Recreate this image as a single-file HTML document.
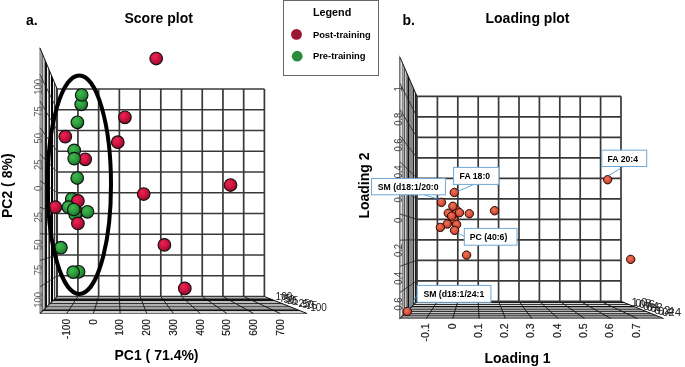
<!DOCTYPE html>
<html><head><meta charset="utf-8"><style>
html,body{margin:0;padding:0;background:#fff;}
svg{display:block;font-family:"Liberation Sans",sans-serif;will-change:transform;}
</style></head><body>
<svg width="685" height="367" viewBox="0 0 685 367">

<defs>
<radialGradient id="gr" cx="0.38" cy="0.35" r="0.7">
<stop offset="0" stop-color="#ec2452"/><stop offset="0.55" stop-color="#c8123e"/><stop offset="1" stop-color="#8a0a28"/>
</radialGradient>
<radialGradient id="gg" cx="0.38" cy="0.35" r="0.7">
<stop offset="0" stop-color="#42ba50"/><stop offset="0.55" stop-color="#2a9a3a"/><stop offset="1" stop-color="#17692a"/>
</radialGradient>
<radialGradient id="go" cx="0.42" cy="0.38" r="0.65">
<stop offset="0" stop-color="#f07458"/><stop offset="0.6" stop-color="#d8503a"/><stop offset="1" stop-color="#a83222"/>
</radialGradient>
</defs>

<rect width="685" height="367" fill="#fff"/>
<g><polygon points="40,48 57.2,89 57.2,296.5 40,313.5" fill="#fff" fill-opacity="0"/>
<polygon points="39.3,46.33 42,52.77 42,311.52 39.3,314.19" fill="#9a9a9a"/>
<polygon points="42,52.77 43,55.15 43,310.53 42,311.52" fill="#6a6a6a"/>
<polygon points="43,55.15 44,57.53 44,309.55 43,310.53" fill="#c8c8c8"/>
<polygon points="44,57.53 45,59.92 45,308.56 44,309.55" fill="#999"/>
<polygon points="45,59.92 47,64.69 47,306.58 45,308.56" fill="#111"/>
<polygon points="47,64.69 48,67.07 48,305.59 47,306.58" fill="#f4f4f4"/>
<polygon points="48,67.07 49,69.45 49,304.6 48,305.59" fill="#777"/>
<polygon points="49,69.45 50,71.84 50,303.62 49,304.6" fill="#222"/>
<polygon points="50,71.84 51,74.22 51,302.63 50,303.62" fill="#f0f0f0"/>
<polygon points="51,74.22 53,78.99 53,300.65 51,302.63" fill="#000"/>
<polygon points="53,78.99 54,81.37 54,299.66 53,300.65" fill="#eee"/>
<polygon points="54,81.37 55,83.76 55,298.67 54,299.66" fill="#444"/>
<polygon points="55,83.76 56,86.14 56,297.69 55,298.67" fill="#ccc"/>
<polygon points="56,86.14 57.3,89.24 57.3,296.4 56,297.69" fill="#333"/>
<polygon points="57.2,296.5 264.4,296.5 307,313.5 40,313.5" fill="#aaa"/>
<polygon points="57.2,296.5 264.4,296.5 265.65,297 56.69,297" fill="#222"/>
<polygon points="56.69,297 265.65,297 268.16,298 55.68,298" fill="#d8d8d8"/>
<polygon points="55.68,298 268.16,298 270.66,299 54.67,299" fill="#666"/>
<polygon points="54.67,299 270.66,299 275.68,301 52.65,301" fill="#111"/>
<polygon points="52.65,301 275.68,301 280.69,303 50.62,303" fill="#bbb"/>
<polygon points="50.62,303 280.69,303 283.19,304 49.61,304" fill="#333"/>
<polygon points="49.61,304 283.19,304 288.21,306 47.59,306" fill="#b0b0b0"/>
<polygon points="47.59,306 288.21,306 290.71,307 46.58,307" fill="#555"/>
<polygon points="46.58,307 290.71,307 295.72,309 44.55,309" fill="#a0a0a0"/>
<polygon points="44.55,309 295.72,309 298.23,310 43.54,310" fill="#555"/>
<polygon points="43.54,310 298.23,310 300.74,311 42.53,311" fill="#111"/>
<polygon points="42.53,311 300.74,311 305.75,313 40.51,313" fill="#d0d0d0"/>
<polygon points="40.51,313 305.75,313 307,313.5 40,313.5" fill="#111"/>
<line x1="57.2" y1="109.75" x2="40" y2="74.55" stroke="#222" stroke-width="0.8"/>
<line x1="57.2" y1="130.5" x2="40" y2="101.1" stroke="#222" stroke-width="0.8"/>
<line x1="57.2" y1="151.25" x2="40" y2="127.65" stroke="#222" stroke-width="0.8"/>
<line x1="57.2" y1="172" x2="40" y2="154.2" stroke="#222" stroke-width="0.8"/>
<line x1="57.2" y1="192.75" x2="40" y2="180.75" stroke="#222" stroke-width="0.8"/>
<line x1="57.2" y1="213.5" x2="40" y2="207.3" stroke="#222" stroke-width="0.8"/>
<line x1="57.2" y1="234.25" x2="40" y2="233.85" stroke="#222" stroke-width="0.8"/>
<line x1="57.2" y1="255" x2="40" y2="260.4" stroke="#222" stroke-width="0.8"/>
<line x1="57.2" y1="275.75" x2="40" y2="286.95" stroke="#222" stroke-width="0.8"/>
<line x1="57.2" y1="296.5" x2="40" y2="313.5" stroke="#222" stroke-width="0.8"/>
<line x1="77.92" y1="296.5" x2="66.7" y2="313.5" stroke="#111" stroke-width="0.9"/>
<line x1="98.64" y1="296.5" x2="93.4" y2="313.5" stroke="#111" stroke-width="0.9"/>
<line x1="119.36" y1="296.5" x2="120.1" y2="313.5" stroke="#111" stroke-width="0.9"/>
<line x1="140.08" y1="296.5" x2="146.8" y2="313.5" stroke="#111" stroke-width="0.9"/>
<line x1="160.8" y1="296.5" x2="173.5" y2="313.5" stroke="#111" stroke-width="0.9"/>
<line x1="181.52" y1="296.5" x2="200.2" y2="313.5" stroke="#111" stroke-width="0.9"/>
<line x1="202.24" y1="296.5" x2="226.9" y2="313.5" stroke="#111" stroke-width="0.9"/>
<line x1="222.96" y1="296.5" x2="253.6" y2="313.5" stroke="#111" stroke-width="0.9"/>
<line x1="243.68" y1="296.5" x2="280.3" y2="313.5" stroke="#111" stroke-width="0.9"/>
<line x1="57.2" y1="89" x2="57.2" y2="296.5" stroke="#383838" stroke-width="1.7"/>
<line x1="77.92" y1="89" x2="77.92" y2="296.5" stroke="#383838" stroke-width="1.7"/>
<line x1="98.64" y1="89" x2="98.64" y2="296.5" stroke="#383838" stroke-width="1.7"/>
<line x1="119.36" y1="89" x2="119.36" y2="296.5" stroke="#383838" stroke-width="1.7"/>
<line x1="140.08" y1="89" x2="140.08" y2="296.5" stroke="#383838" stroke-width="1.7"/>
<line x1="160.8" y1="89" x2="160.8" y2="296.5" stroke="#383838" stroke-width="1.7"/>
<line x1="181.52" y1="89" x2="181.52" y2="296.5" stroke="#383838" stroke-width="1.7"/>
<line x1="202.24" y1="89" x2="202.24" y2="296.5" stroke="#383838" stroke-width="1.7"/>
<line x1="222.96" y1="89" x2="222.96" y2="296.5" stroke="#383838" stroke-width="1.7"/>
<line x1="243.68" y1="89" x2="243.68" y2="296.5" stroke="#383838" stroke-width="1.7"/>
<line x1="264.4" y1="89" x2="264.4" y2="296.5" stroke="#383838" stroke-width="1.7"/>
<line x1="57.2" y1="89" x2="264.4" y2="89" stroke="#383838" stroke-width="1.7"/>
<line x1="57.2" y1="109.75" x2="264.4" y2="109.75" stroke="#383838" stroke-width="1.7"/>
<line x1="57.2" y1="130.5" x2="264.4" y2="130.5" stroke="#383838" stroke-width="1.7"/>
<line x1="57.2" y1="151.25" x2="264.4" y2="151.25" stroke="#383838" stroke-width="1.7"/>
<line x1="57.2" y1="172" x2="264.4" y2="172" stroke="#383838" stroke-width="1.7"/>
<line x1="57.2" y1="192.75" x2="264.4" y2="192.75" stroke="#383838" stroke-width="1.7"/>
<line x1="57.2" y1="213.5" x2="264.4" y2="213.5" stroke="#383838" stroke-width="1.7"/>
<line x1="57.2" y1="234.25" x2="264.4" y2="234.25" stroke="#383838" stroke-width="1.7"/>
<line x1="57.2" y1="255" x2="264.4" y2="255" stroke="#383838" stroke-width="1.7"/>
<line x1="57.2" y1="275.75" x2="264.4" y2="275.75" stroke="#383838" stroke-width="1.7"/>
<line x1="57.2" y1="296.5" x2="264.4" y2="296.5" stroke="#383838" stroke-width="1.7"/>
<line x1="40" y1="48" x2="57.2" y2="89" stroke="#111" stroke-width="1"/>
<line x1="264.4" y1="296.5" x2="307" y2="313.5" stroke="#111" stroke-width="1"/>
<line x1="40" y1="313.5" x2="57.2" y2="296.5" stroke="#111" stroke-width="1"/></g>
<text transform="translate(41.6,87) rotate(-90) scale(0.9,1)" font-size="10.5" fill="#5a5a5a" text-anchor="middle">100</text>
<text transform="translate(41.6,111.4) rotate(-90) scale(0.9,1)" font-size="10.5" fill="#5a5a5a" text-anchor="middle">75</text>
<text transform="translate(41.6,138.2) rotate(-90) scale(0.9,1)" font-size="10.5" fill="#5a5a5a" text-anchor="middle">50</text>
<text transform="translate(41.6,164.7) rotate(-90) scale(0.9,1)" font-size="10.5" fill="#5a5a5a" text-anchor="middle">25</text>
<text transform="translate(41.6,188.3) rotate(-90) scale(0.9,1)" font-size="10.5" fill="#5a5a5a" text-anchor="middle">0</text>
<text transform="translate(41.6,217.2) rotate(-90) scale(0.9,1)" font-size="10.5" fill="#5a5a5a" text-anchor="middle">25</text>
<text transform="translate(41.6,244.8) rotate(-90) scale(0.9,1)" font-size="10.5" fill="#5a5a5a" text-anchor="middle">50</text>
<text transform="translate(41.6,270) rotate(-90) scale(0.9,1)" font-size="10.5" fill="#5a5a5a" text-anchor="middle">75</text>
<text transform="translate(41.6,300) rotate(-90) scale(0.9,1)" font-size="10.5" fill="#5a5a5a" text-anchor="middle">100</text>
<circle cx="156.2" cy="58.5" r="6.3" fill="url(#gr)" stroke="#111" stroke-width="1.15"/>
<circle cx="124.9" cy="117.3" r="6.3" fill="url(#gr)" stroke="#111" stroke-width="1.15"/>
<circle cx="117.8" cy="142.2" r="6.3" fill="url(#gr)" stroke="#111" stroke-width="1.15"/>
<circle cx="65.3" cy="136.6" r="6.3" fill="url(#gr)" stroke="#111" stroke-width="1.15"/>
<circle cx="85.2" cy="159.3" r="6.3" fill="url(#gr)" stroke="#111" stroke-width="1.15"/>
<circle cx="143.7" cy="194" r="6.3" fill="url(#gr)" stroke="#111" stroke-width="1.15"/>
<circle cx="230.5" cy="185" r="6.3" fill="url(#gr)" stroke="#111" stroke-width="1.15"/>
<circle cx="164.4" cy="244.9" r="6.3" fill="url(#gr)" stroke="#111" stroke-width="1.15"/>
<circle cx="184.8" cy="288.4" r="6.3" fill="url(#gr)" stroke="#111" stroke-width="1.15"/>
<circle cx="81.2" cy="104.3" r="6.3" fill="url(#gg)" stroke="#111" stroke-width="1.15"/>
<circle cx="81.7" cy="95" r="6.3" fill="url(#gg)" stroke="#111" stroke-width="1.15"/>
<circle cx="77.4" cy="122.3" r="6.3" fill="url(#gg)" stroke="#111" stroke-width="1.15"/>
<circle cx="74.2" cy="150.4" r="6.3" fill="url(#gg)" stroke="#111" stroke-width="1.15"/>
<circle cx="74.2" cy="158.6" r="6.3" fill="url(#gg)" stroke="#111" stroke-width="1.15"/>
<circle cx="77.2" cy="178" r="6.3" fill="url(#gg)" stroke="#111" stroke-width="1.15"/>
<circle cx="60.9" cy="247.7" r="6.3" fill="url(#gg)" stroke="#111" stroke-width="1.15"/>
<circle cx="78.6" cy="271.8" r="6.3" fill="url(#gg)" stroke="#111" stroke-width="1.15"/>
<circle cx="73.2" cy="272.2" r="6.3" fill="url(#gg)" stroke="#111" stroke-width="1.15"/>
<circle cx="71.8" cy="198.9" r="6.3" fill="url(#gg)" stroke="#111" stroke-width="1.15"/>
<circle cx="77.9" cy="200.9" r="6.3" fill="url(#gr)" stroke="#111" stroke-width="1.15"/>
<circle cx="77.2" cy="212.5" r="6.3" fill="url(#gr)" stroke="#111" stroke-width="1.15"/>
<circle cx="75.2" cy="214.6" r="6.3" fill="url(#gg)" stroke="#111" stroke-width="1.15"/>
<circle cx="68.4" cy="207.1" r="6.3" fill="url(#gg)" stroke="#111" stroke-width="1.15"/>
<circle cx="55.4" cy="207.1" r="6.3" fill="url(#gr)" stroke="#111" stroke-width="1.15"/>
<circle cx="87.5" cy="211.8" r="6.3" fill="url(#gg)" stroke="#111" stroke-width="1.15"/>
<circle cx="73.8" cy="209.5" r="6.3" fill="url(#gg)" stroke="#111" stroke-width="1.15"/>
<circle cx="77.9" cy="223.4" r="6.3" fill="url(#gr)" stroke="#111" stroke-width="1.15"/>
<ellipse cx="79.3" cy="184.7" rx="31.7" ry="109.2" fill="none" stroke="#000" stroke-width="4"/>
<g><polygon points="400,57.3 417,96.3 417,301.3 400,318.5" fill="#fff" fill-opacity="0"/>
<polygon points="399,55.01 400,57.3 400,318.5 399,319.51" fill="#777"/>
<polygon points="400,57.3 401,59.59 401,317.49 400,318.5" fill="#aaa"/>
<polygon points="401,59.59 402,61.89 402,316.48 401,317.49" fill="#ddd"/>
<polygon points="402,61.89 403,64.18 403,315.46 402,316.48" fill="#888"/>
<polygon points="403,64.18 404,66.48 404,314.45 403,315.46" fill="#aaa"/>
<polygon points="404,66.48 405,68.77 405,313.44 404,314.45" fill="#555"/>
<polygon points="405,68.77 406,71.06 406,312.43 405,313.44" fill="#ccc"/>
<polygon points="406,71.06 407,73.36 407,311.42 406,312.43" fill="#888"/>
<polygon points="407,73.36 408,75.65 408,310.41 407,311.42" fill="#666"/>
<polygon points="408,75.65 409,77.95 409,309.39 408,310.41" fill="#111"/>
<polygon points="409,77.95 413,87.12 413,305.35 409,309.39" fill="#888"/>
<polygon points="413,87.12 414,89.42 414,304.34 413,305.35" fill="#222"/>
<polygon points="414,89.42 415,91.71 415,303.32 414,304.34" fill="#ccc"/>
<polygon points="415,91.71 417,96.3 417,301.3 415,303.32" fill="#222"/>
<polygon points="417,301.3 621,301.3 663.6,318.5 400,318.5" fill="#aaa"/>
<polygon points="417,301.3 621,301.3 625.21,303 415.32,303" fill="#111"/>
<polygon points="415.32,303 625.21,303 627.69,304 414.33,304" fill="#d8d8d8"/>
<polygon points="414.33,304 627.69,304 630.16,305 413.34,305" fill="#333"/>
<polygon points="413.34,305 630.16,305 632.64,306 412.35,306" fill="#d8d8d8"/>
<polygon points="412.35,306 632.64,306 635.12,307 411.37,307" fill="#111"/>
<polygon points="411.37,307 635.12,307 640.07,309 409.39,309" fill="#999"/>
<polygon points="409.39,309 640.07,309 642.55,310 408.4,310" fill="#555"/>
<polygon points="408.4,310 642.55,310 645.02,311 407.41,311" fill="#aaa"/>
<polygon points="407.41,311 645.02,311 647.5,312 406.42,312" fill="#333"/>
<polygon points="406.42,312 647.5,312 649.98,313 405.44,313" fill="#ccc"/>
<polygon points="405.44,313 649.98,313 652.45,314 404.45,314" fill="#444"/>
<polygon points="404.45,314 652.45,314 654.93,315 403.46,315" fill="#999"/>
<polygon points="403.46,315 654.93,315 657.41,316 402.47,316" fill="#555"/>
<polygon points="402.47,316 657.41,316 659.88,317 401.48,317" fill="#999"/>
<polygon points="401.48,317 659.88,317 662.36,318 400.49,318" fill="#777"/>
<polygon points="400.49,318 662.36,318 663.6,318.5 400,318.5" fill="#222"/>
<line x1="417" y1="116.8" x2="400" y2="83.42" stroke="#222" stroke-width="0.8"/>
<line x1="417" y1="137.3" x2="400" y2="109.54" stroke="#222" stroke-width="0.8"/>
<line x1="417" y1="157.8" x2="400" y2="135.66" stroke="#222" stroke-width="0.8"/>
<line x1="417" y1="178.3" x2="400" y2="161.78" stroke="#222" stroke-width="0.8"/>
<line x1="417" y1="198.8" x2="400" y2="187.9" stroke="#222" stroke-width="0.8"/>
<line x1="417" y1="219.3" x2="400" y2="214.02" stroke="#222" stroke-width="0.8"/>
<line x1="417" y1="239.8" x2="400" y2="240.14" stroke="#222" stroke-width="0.8"/>
<line x1="417" y1="260.3" x2="400" y2="266.26" stroke="#222" stroke-width="0.8"/>
<line x1="417" y1="280.8" x2="400" y2="292.38" stroke="#222" stroke-width="0.8"/>
<line x1="417" y1="301.3" x2="400" y2="318.5" stroke="#222" stroke-width="0.8"/>
<line x1="437.4" y1="301.3" x2="426.36" y2="318.5" stroke="#111" stroke-width="0.9"/>
<line x1="457.8" y1="301.3" x2="452.72" y2="318.5" stroke="#111" stroke-width="0.9"/>
<line x1="478.2" y1="301.3" x2="479.08" y2="318.5" stroke="#111" stroke-width="0.9"/>
<line x1="498.6" y1="301.3" x2="505.44" y2="318.5" stroke="#111" stroke-width="0.9"/>
<line x1="519" y1="301.3" x2="531.8" y2="318.5" stroke="#111" stroke-width="0.9"/>
<line x1="539.4" y1="301.3" x2="558.16" y2="318.5" stroke="#111" stroke-width="0.9"/>
<line x1="559.8" y1="301.3" x2="584.52" y2="318.5" stroke="#111" stroke-width="0.9"/>
<line x1="580.2" y1="301.3" x2="610.88" y2="318.5" stroke="#111" stroke-width="0.9"/>
<line x1="600.6" y1="301.3" x2="637.24" y2="318.5" stroke="#111" stroke-width="0.9"/>
<line x1="417" y1="96.3" x2="417" y2="301.3" stroke="#383838" stroke-width="1.7"/>
<line x1="437.4" y1="96.3" x2="437.4" y2="301.3" stroke="#383838" stroke-width="1.7"/>
<line x1="457.8" y1="96.3" x2="457.8" y2="301.3" stroke="#383838" stroke-width="1.7"/>
<line x1="478.2" y1="96.3" x2="478.2" y2="301.3" stroke="#383838" stroke-width="1.7"/>
<line x1="498.6" y1="96.3" x2="498.6" y2="301.3" stroke="#383838" stroke-width="1.7"/>
<line x1="519" y1="96.3" x2="519" y2="301.3" stroke="#383838" stroke-width="1.7"/>
<line x1="539.4" y1="96.3" x2="539.4" y2="301.3" stroke="#383838" stroke-width="1.7"/>
<line x1="559.8" y1="96.3" x2="559.8" y2="301.3" stroke="#383838" stroke-width="1.7"/>
<line x1="580.2" y1="96.3" x2="580.2" y2="301.3" stroke="#383838" stroke-width="1.7"/>
<line x1="600.6" y1="96.3" x2="600.6" y2="301.3" stroke="#383838" stroke-width="1.7"/>
<line x1="621" y1="96.3" x2="621" y2="301.3" stroke="#383838" stroke-width="1.7"/>
<line x1="417" y1="96.3" x2="621" y2="96.3" stroke="#383838" stroke-width="1.7"/>
<line x1="417" y1="116.8" x2="621" y2="116.8" stroke="#383838" stroke-width="1.7"/>
<line x1="417" y1="137.3" x2="621" y2="137.3" stroke="#383838" stroke-width="1.7"/>
<line x1="417" y1="157.8" x2="621" y2="157.8" stroke="#383838" stroke-width="1.7"/>
<line x1="417" y1="178.3" x2="621" y2="178.3" stroke="#383838" stroke-width="1.7"/>
<line x1="417" y1="198.8" x2="621" y2="198.8" stroke="#383838" stroke-width="1.7"/>
<line x1="417" y1="219.3" x2="621" y2="219.3" stroke="#383838" stroke-width="1.7"/>
<line x1="417" y1="239.8" x2="621" y2="239.8" stroke="#383838" stroke-width="1.7"/>
<line x1="417" y1="260.3" x2="621" y2="260.3" stroke="#383838" stroke-width="1.7"/>
<line x1="417" y1="280.8" x2="621" y2="280.8" stroke="#383838" stroke-width="1.7"/>
<line x1="417" y1="301.3" x2="621" y2="301.3" stroke="#383838" stroke-width="1.7"/>
<line x1="400" y1="57.3" x2="417" y2="96.3" stroke="#111" stroke-width="1"/>
<line x1="621" y1="301.3" x2="663.6" y2="318.5" stroke="#111" stroke-width="1"/>
<line x1="400" y1="318.5" x2="417" y2="301.3" stroke="#111" stroke-width="1"/></g>
<text transform="translate(402.2,89) rotate(-90) scale(0.9,1)" font-size="10.5" fill="#3a3a3a" text-anchor="middle">1</text>
<text transform="translate(402.2,119.2) rotate(-90) scale(0.9,1)" font-size="10.5" fill="#3a3a3a" text-anchor="middle">0.8</text>
<text transform="translate(402.2,145) rotate(-90) scale(0.9,1)" font-size="10.5" fill="#3a3a3a" text-anchor="middle">0.6</text>
<text transform="translate(402.2,171.8) rotate(-90) scale(0.9,1)" font-size="10.5" fill="#3a3a3a" text-anchor="middle">0.4</text>
<text transform="translate(402.2,196) rotate(-90) scale(0.9,1)" font-size="10.5" fill="#3a3a3a" text-anchor="middle">0.2</text>
<text transform="translate(402.2,220.3) rotate(-90) scale(0.9,1)" font-size="10.5" fill="#3a3a3a" text-anchor="middle">0</text>
<text transform="translate(402.2,250.5) rotate(-90) scale(0.9,1)" font-size="10.5" fill="#3a3a3a" text-anchor="middle">0.2</text>
<text transform="translate(402.2,278.3) rotate(-90) scale(0.9,1)" font-size="10.5" fill="#3a3a3a" text-anchor="middle">0.4</text>
<text transform="translate(402.2,304) rotate(-90) scale(0.9,1)" font-size="10.5" fill="#3a3a3a" text-anchor="middle">0.6</text>
<circle cx="456.6" cy="210.3" r="4.2" fill="url(#go)" stroke="#2a0c04" stroke-width="1"/>
<circle cx="454.1" cy="220" r="4.2" fill="url(#go)" stroke="#2a0c04" stroke-width="1"/>
<circle cx="448.3" cy="213.2" r="4.2" fill="url(#go)" stroke="#2a0c04" stroke-width="1"/>
<circle cx="459.5" cy="212.7" r="4.2" fill="url(#go)" stroke="#2a0c04" stroke-width="1"/>
<circle cx="452.9" cy="206.3" r="4.2" fill="url(#go)" stroke="#2a0c04" stroke-width="1"/>
<circle cx="441.4" cy="202.4" r="4.2" fill="url(#go)" stroke="#2a0c04" stroke-width="1"/>
<circle cx="469.3" cy="213.7" r="4.2" fill="url(#go)" stroke="#2a0c04" stroke-width="1"/>
<circle cx="456.6" cy="224.5" r="4.2" fill="url(#go)" stroke="#2a0c04" stroke-width="1"/>
<circle cx="447.3" cy="224" r="4.2" fill="url(#go)" stroke="#2a0c04" stroke-width="1"/>
<circle cx="451.7" cy="216.1" r="4.2" fill="url(#go)" stroke="#2a0c04" stroke-width="1"/>
<circle cx="440.4" cy="227.4" r="4.2" fill="url(#go)" stroke="#2a0c04" stroke-width="1"/>
<circle cx="454.6" cy="230.4" r="4.2" fill="url(#go)" stroke="#2a0c04" stroke-width="1"/>
<circle cx="454.3" cy="192.5" r="4.2" fill="url(#go)" stroke="#2a0c04" stroke-width="1"/>
<circle cx="494.6" cy="210.7" r="4.2" fill="url(#go)" stroke="#2a0c04" stroke-width="1"/>
<circle cx="466.6" cy="255.1" r="4.2" fill="url(#go)" stroke="#2a0c04" stroke-width="1"/>
<circle cx="607.7" cy="179.7" r="4.2" fill="url(#go)" stroke="#2a0c04" stroke-width="1"/>
<circle cx="630.7" cy="259.4" r="4.2" fill="url(#go)" stroke="#2a0c04" stroke-width="1"/>
<circle cx="407.3" cy="311.5" r="4.2" fill="url(#go)" stroke="#2a0c04" stroke-width="1"/>
<text transform="translate(70,319) rotate(-90) scale(0.92,1)" font-size="11" fill="#1a1a1a" stroke="#1a1a1a" stroke-width="0.2" text-anchor="end">-100</text>
<text transform="translate(96.7,319) rotate(-90) scale(0.92,1)" font-size="11" fill="#1a1a1a" stroke="#1a1a1a" stroke-width="0.2" text-anchor="end">0</text>
<text transform="translate(123.4,319) rotate(-90) scale(0.92,1)" font-size="11" fill="#1a1a1a" stroke="#1a1a1a" stroke-width="0.2" text-anchor="end">100</text>
<text transform="translate(150.1,319) rotate(-90) scale(0.92,1)" font-size="11" fill="#1a1a1a" stroke="#1a1a1a" stroke-width="0.2" text-anchor="end">200</text>
<text transform="translate(176.8,319) rotate(-90) scale(0.92,1)" font-size="11" fill="#1a1a1a" stroke="#1a1a1a" stroke-width="0.2" text-anchor="end">300</text>
<text transform="translate(203.5,319) rotate(-90) scale(0.92,1)" font-size="11" fill="#1a1a1a" stroke="#1a1a1a" stroke-width="0.2" text-anchor="end">400</text>
<text transform="translate(230.2,319) rotate(-90) scale(0.92,1)" font-size="11" fill="#1a1a1a" stroke="#1a1a1a" stroke-width="0.2" text-anchor="end">500</text>
<text transform="translate(256.9,319) rotate(-90) scale(0.92,1)" font-size="11" fill="#1a1a1a" stroke="#1a1a1a" stroke-width="0.2" text-anchor="end">600</text>
<text transform="translate(283.6,319) rotate(-90) scale(0.92,1)" font-size="11" fill="#1a1a1a" stroke="#1a1a1a" stroke-width="0.2" text-anchor="end">700</text>
<text transform="translate(429.2,323.4) rotate(-90) scale(0.95,1)" font-size="11" fill="#1a1a1a" stroke="#1a1a1a" stroke-width="0.2" text-anchor="end">-0.1</text>
<text transform="translate(455.5,323.4) rotate(-90) scale(0.95,1)" font-size="11" fill="#1a1a1a" stroke="#1a1a1a" stroke-width="0.2" text-anchor="end">0</text>
<text transform="translate(481.8,323.4) rotate(-90) scale(0.95,1)" font-size="11" fill="#1a1a1a" stroke="#1a1a1a" stroke-width="0.2" text-anchor="end">0.1</text>
<text transform="translate(508.1,323.4) rotate(-90) scale(0.95,1)" font-size="11" fill="#1a1a1a" stroke="#1a1a1a" stroke-width="0.2" text-anchor="end">0.2</text>
<text transform="translate(534.4,323.4) rotate(-90) scale(0.95,1)" font-size="11" fill="#1a1a1a" stroke="#1a1a1a" stroke-width="0.2" text-anchor="end">0.3</text>
<text transform="translate(560.7,323.4) rotate(-90) scale(0.95,1)" font-size="11" fill="#1a1a1a" stroke="#1a1a1a" stroke-width="0.2" text-anchor="end">0.4</text>
<text transform="translate(587,323.4) rotate(-90) scale(0.95,1)" font-size="11" fill="#1a1a1a" stroke="#1a1a1a" stroke-width="0.2" text-anchor="end">0.5</text>
<text transform="translate(613.3,323.4) rotate(-90) scale(0.95,1)" font-size="11" fill="#1a1a1a" stroke="#1a1a1a" stroke-width="0.2" text-anchor="end">0.6</text>
<text transform="translate(639.6,323.4) rotate(-90) scale(0.95,1)" font-size="11" fill="#1a1a1a" stroke="#1a1a1a" stroke-width="0.2" text-anchor="end">0.7</text>
<text x="275.6" y="300.2" font-size="10" fill="#222">100</text>
<text x="279.5" y="301.5" font-size="10" fill="#222">75</text>
<text x="283.4" y="302.8" font-size="10" fill="#222">50</text>
<text x="287.3" y="304.1" font-size="10" fill="#222">25</text>
<text x="291.2" y="305.4" font-size="10" fill="#222">0</text>
<text x="295.1" y="306.7" font-size="10" fill="#222">-25</text>
<text x="299" y="308" font-size="10" fill="#222">-50</text>
<text x="302.9" y="309.3" font-size="10" fill="#222">-75</text>
<text x="306.8" y="310.6" font-size="10" fill="#222">-100</text>
<text x="631.5" y="305.7" font-size="11.5" fill="#222">1.0</text>
<text x="635.3" y="307" font-size="11.5" fill="#222">0.8</text>
<text x="639.1" y="308.3" font-size="11.5" fill="#222">0.6</text>
<text x="642.9" y="309.6" font-size="11.5" fill="#222">0.4</text>
<text x="646.7" y="310.9" font-size="11.5" fill="#222">0.2</text>
<text x="650.5" y="312.2" font-size="11.5" fill="#222">0</text>
<text x="654.3" y="313.5" font-size="11.5" fill="#222">0.2</text>
<text x="658.1" y="314.8" font-size="11.5" fill="#222">0.4</text>
<text x="661.9" y="316.1" font-size="11.5" fill="#222">024</text>
<line x1="424" y1="194.8" x2="441" y2="200" stroke="#3a8fd0" stroke-width="0.8"/>
<line x1="474.9" y1="184" x2="457.5" y2="191.5" stroke="#3a8fd0" stroke-width="0.8"/>
<line x1="457.7" y1="232.9" x2="464.7" y2="236.6" stroke="#3a8fd0" stroke-width="0.8"/>
<line x1="608.6" y1="175.7" x2="623.6" y2="166.5" stroke="#3a8fd0" stroke-width="0.8"/>
<line x1="408" y1="309.5" x2="417.7" y2="294.2" stroke="#3a8fd0" stroke-width="0.8"/>
<rect x="371.5" y="178.5" width="73.9" height="16.3" fill="#fff" stroke="#6fa8d6" stroke-width="1"/><text x="377.7" y="189.7" font-size="8.7" font-weight="bold">SM (d18:1/20:0</text>
<rect x="453.6" y="167.4" width="45.3" height="17" fill="#fff" stroke="#6fa8d6" stroke-width="1"/><text x="459.6" y="179.2" font-size="8.7" font-weight="bold">FA 18:0</text>
<rect x="464.3" y="228.4" width="52.7" height="16.8" fill="#fff" stroke="#6fa8d6" stroke-width="1"/><text x="469.7" y="240.2" font-size="8.7" font-weight="bold">PC (40:6)</text>
<rect x="601.8" y="150.2" width="44.9" height="16.3" fill="#fff" stroke="#6fa8d6" stroke-width="1"/><text x="607.5" y="161.5" font-size="8.7" font-weight="bold">FA 20:4</text>
<rect x="417.2" y="285.4" width="73.7" height="16.9" fill="#fff" stroke="#6fa8d6" stroke-width="1"/><text x="423.4" y="297.2" font-size="8.7" font-weight="bold">SM (d18:1/24:1</text>

<rect x="283.5" y="0.5" width="95" height="75" fill="#fff" stroke="#666" stroke-width="1"/>
<text x="312.9" y="15.7" font-size="10.8" font-weight="bold">Legend</text>
<circle cx="296.5" cy="34.4" r="5.4" fill="#9b1733"/>
<text x="312.9" y="38.1" font-size="9.4" font-weight="bold">Post-training</text>
<circle cx="297.2" cy="56.2" r="5.4" fill="#2a8c3c"/>
<text x="312.9" y="58.8" font-size="9.4" font-weight="bold">Pre-training</text>


<text x="26" y="25" font-size="14" font-weight="bold">a.</text>
<text x="124.5" y="22.8" font-size="14" font-weight="bold">Score plot</text>
<text x="402.5" y="24.9" font-size="14" font-weight="bold">b.</text>
<text x="485.5" y="22.8" font-size="14" font-weight="bold">Loading plot</text>
<text x="114.5" y="360.4" font-size="14" font-weight="bold">PC1 ( 71.4%)</text>
<text x="484.5" y="362.7" font-size="14" font-weight="bold">Loading 1</text>
<text transform="translate(12.3,218) rotate(-90)" font-size="14" font-weight="bold">PC2 ( 8%)</text>
<text transform="translate(368.5,218.6) rotate(-90)" font-size="14" font-weight="bold">Loading 2</text>

</svg>
</body></html>
